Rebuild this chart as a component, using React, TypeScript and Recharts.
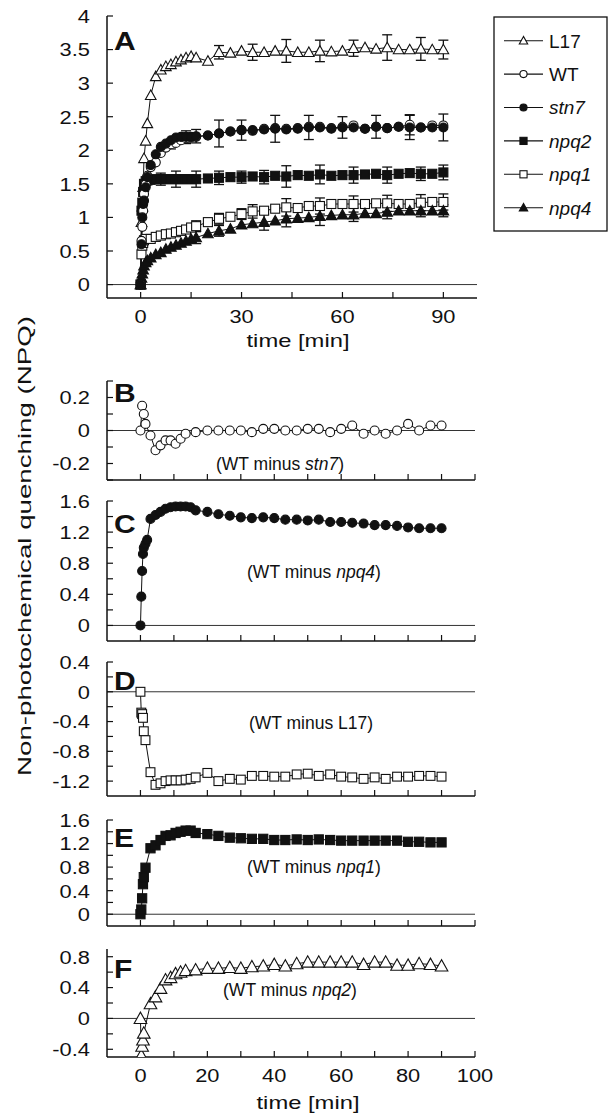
import React from 'react';
import { LineChart, Line, XAxis, YAxis, ReferenceLine, ErrorBar } from 'recharts';

const FONT = '"Liberation Sans", Arial, Helvetica, sans-serif';
const INK = '#111';

// measuring times (min)
const T = [0, 0.25, 0.5, 0.75, 1, 1.5, 2, 3, 4.5, 6, 7.5, 9, 10.5, 12, 13.5, 15, 16.5,
  20, 23.3, 26.7, 30, 33.3, 36.7, 40, 43.3, 46.7, 50, 53.3, 56.7, 60, 63.3, 66.7, 70, 73.3, 76.7, 80, 83.3, 86.7, 90];

// panel A: NPQ of each line
const L17 = [0, 0.93, 1.16, 1.45, 1.88, 2.14, 2.4, 2.82, 3.1, 3.2, 3.25, 3.28, 3.32, 3.35, 3.38, 3.4, 3.38,
  3.33, 3.46, 3.45, 3.48, 3.46, 3.46, 3.48, 3.48, 3.46, 3.46, 3.48, 3.47, 3.48, 3.52, 3.53, 3.51, 3.53, 3.5, 3.5, 3.51, 3.5, 3.5];
const WT = [0, 0.65, 0.86, 1.1, 1.35, 1.49, 1.62, 1.75, 1.82, 1.96, 2.04, 2.09, 2.11, 2.15, 2.18, 2.19, 2.2,
  2.22, 2.25, 2.28, 2.3, 2.29, 2.32, 2.33, 2.32, 2.33, 2.35, 2.35, 2.33, 2.35, 2.37, 2.32, 2.35, 2.33, 2.35, 2.38, 2.34, 2.37, 2.37];
const STN7 = [0, 0.6, 1.0, 1.2, 1.25, 1.45, 1.6, 1.78, 1.94, 2.05, 2.1, 2.15, 2.19, 2.2, 2.2, 2.2, 2.21,
  2.22, 2.25, 2.28, 2.3, 2.3, 2.31, 2.32, 2.31, 2.32, 2.34, 2.34, 2.32, 2.34, 2.34, 2.32, 2.35, 2.33, 2.35, 2.34, 2.34, 2.34, 2.34];
const NPQ2 = [0, 1.1, 1.22, 1.38, 1.5, 1.54, 1.55, 1.56, 1.57, 1.57, 1.57, 1.57, 1.57, 1.57, 1.57, 1.57, 1.57,
  1.58, 1.59, 1.6, 1.6, 1.61, 1.6, 1.62, 1.61, 1.63, 1.62, 1.64, 1.62, 1.63, 1.63, 1.64, 1.65, 1.63, 1.65, 1.66, 1.65, 1.65, 1.67];
const NPQ1 = [0, 0.45, 0.58, 0.62, 0.66, 0.68, null, 0.68, 0.71, 0.73, 0.75, 0.76, 0.78, 0.8, 0.82, 0.85, 0.87,
  0.93, 0.98, 1.01, 1.05, 1.09, 1.1, 1.13, 1.15, 1.14, 1.17, 1.17, 1.2, 1.2, 1.2, 1.2, 1.21, 1.21, 1.2, 1.2, 1.22, 1.23, 1.23];
const NPQ4 = [0, 0.1, 0.16, 0.22, 0.28, 0.33, 0.36, 0.4, 0.45, 0.48, 0.53, 0.56, 0.59, 0.62, 0.65, 0.68, 0.7,
  0.76, 0.8, 0.83, 0.89, 0.91, 0.93, 0.95, 0.98, 0.99, 1.0, 1.02, 1.03, 1.04, 1.04, 1.06, 1.06, 1.08, 1.1, 1.1, 1.1, 1.1, 1.1];

// error bars [index into T, +/- value]
const L17_ERR = [[18, 0.1], [21, 0.12], [24, 0.17], [27, 0.16], [30, 0.12], [33, 0.19], [36, 0.17], [38, 0.14]];
const WT_ERR = [[11, 0.07], [14, 0.08], [35, 0.15]];
const STN7_ERR = [[14, 0.09], [16, 0.1], [18, 0.2], [20, 0.15], [23, 0.2], [26, 0.18], [29, 0.16], [32, 0.17], [35, 0.18], [38, 0.2]];
const NPQ2_ERR = [[9, 0.09], [12, 0.12], [16, 0.12], [18, 0.1], [20, 0.09], [22, 0.1], [24, 0.16], [27, 0.14], [30, 0.12], [33, 0.12], [36, 0.1], [38, 0.11]];
const NPQ1_ERR = [[16, 0.08], [18, 0.08], [20, 0.08], [21, 0.1], [24, 0.13], [27, 0.12], [30, 0.12], [33, 0.12], [36, 0.12], [38, 0.12]];
const NPQ4_ERR = [[16, 0.09], [18, 0.08], [22, 0.12], [24, 0.12], [27, 0.14], [30, 0.1], [33, 0.1], [36, 0.09], [38, 0.09]];

// panels B-F: differences
const WT_STN7 = [0, null, 0.15, null, 0.1, 0.04, null, -0.03, -0.12, -0.09, -0.06, -0.06, -0.08, -0.05, -0.02, null, -0.01,
  0, 0, 0, 0, -0.01, 0.01, 0.01, 0, 0, 0.01, 0.01, -0.01, 0.01, 0.03, -0.02, 0, -0.02, 0, 0.04, 0, 0.03, 0.03];
const WT_NPQ4 = [0, 0.37, 0.7, 0.92, 1.0, 1.05, 1.1, 1.37, 1.42, 1.46, 1.5, 1.52, 1.53, 1.53, 1.53, 1.52, 1.48,
  1.46, 1.43, 1.41, 1.39, 1.38, 1.39, 1.38, 1.36, 1.36, 1.35, 1.36, 1.33, 1.33, 1.32, 1.31, 1.29, 1.29, 1.28, 1.26, 1.25, 1.25, 1.25];
const WT_L17 = [0, -0.28, -0.3, -0.35, -0.53, -0.65, null, -1.08, -1.25, -1.23, -1.2, -1.19, -1.19, -1.19, -1.18, -1.17, -1.15,
  -1.09, -1.2, -1.17, -1.18, -1.13, -1.13, -1.14, -1.14, -1.11, -1.1, -1.13, -1.11, -1.14, -1.15, -1.17, -1.15, -1.17, -1.14, -1.14, -1.13, -1.13, -1.14];
const WT_NPQ1 = [0, 0.08, 0.27, 0.51, 0.63, 0.79, null, 1.12, 1.17, 1.26, 1.33, 1.34, 1.38, 1.4, 1.42, 1.42, 1.38,
  1.36, 1.33, 1.3, 1.29, 1.28, 1.28, 1.26, 1.26, 1.27, 1.26, 1.27, 1.26, 1.25, 1.25, 1.25, 1.25, 1.25, 1.25, 1.23, 1.23, 1.22, 1.22];
const WT_NPQ2 = [0, -0.48, -0.36, -0.28, -0.19, null, null, 0.19, 0.28, 0.39, 0.5, 0.53, 0.58, 0.6, 0.62, null, 0.63,
  0.65, 0.65, 0.66, 0.65, 0.67, 0.68, 0.7, 0.68, 0.71, 0.73, 0.73, 0.73, 0.73, 0.73, 0.7, 0.73, 0.73, 0.69, 0.69, 0.71, 0.7, 0.68];

const LEGEND = [
  { name: 'L17', kind: 'triOpen', italic: false },
  { name: 'WT', kind: 'cirOpen', italic: false },
  { name: 'stn7', kind: 'cirFill', italic: true },
  { name: 'npq2', kind: 'sqFill', italic: true },
  { name: 'npq1', kind: 'sqOpen', italic: true },
  { name: 'npq4', kind: 'triFill', italic: true },
];

const errCol = (list: number[][]) => {
  const out: (number | undefined)[] = T.map(() => undefined);
  list.forEach(([i, e]) => { out[i] = e; });
  return out;
};

const errs = {
  L17: errCol(L17_ERR), WT: errCol(WT_ERR), stn7: errCol(STN7_ERR),
  npq2: errCol(NPQ2_ERR), npq1: errCol(NPQ1_ERR), npq4: errCol(NPQ4_ERR),
};

const rowsA = T.map((t, i) => ({
  t,
  L17: L17[i], WT: WT[i], stn7: STN7[i], npq2: NPQ2[i], npq1: NPQ1[i], npq4: NPQ4[i],
  L17_e: errs.L17[i], WT_e: errs.WT[i], stn7_e: errs.stn7[i],
  npq2_e: errs.npq2[i], npq1_e: errs.npq1[i], npq4_e: errs.npq4[i],
}));

const diffRows = (vals: (number | null)[]) => T.map((t, i) => ({ t, v: vals[i] }));

function Marker({ kind, cx, cy, s }: { kind: string; cx: number; cy: number; s: number }) {
  const fillOf = (filled: boolean) => (filled ? INK : '#fff');
  if (kind === 'triOpen' || kind === 'triFill') {
    const pts = `${cx},${cy - s} ${cx - s},${cy + s * 0.8} ${cx + s},${cy + s * 0.8}`;
    return <polygon points={pts} fill={fillOf(kind === 'triFill')} stroke={INK} strokeWidth={1.1} />;
  }
  if (kind === 'sqOpen' || kind === 'sqFill') {
    const h = s * 0.85;
    return <rect x={cx - h} y={cy - h} width={2 * h} height={2 * h} fill={fillOf(kind === 'sqFill')} stroke={INK} strokeWidth={1.1} />;
  }
  return <circle cx={cx} cy={cy} r={s * 0.85} fill={fillOf(kind === 'cirFill')} stroke={INK} strokeWidth={1.1} />;
}

const dotOf = (kind: string, s: number) => (p: any) => {
  if (p.value == null || !Number.isFinite(p.cy)) return <g key={`d${p.index}`} />;
  return <Marker key={`d${p.index}`} kind={kind} cx={p.cx} cy={p.cy} s={s} />;
};

const near = (list: number[], v: number) => list.some((l) => Math.abs(l - v) < 1e-6);

const tickOf = (side: 'left' | 'bottom', labels: number[]) => (p: any) => {
  const v = p.payload.value;
  if (!near(labels, v)) return <g />;
  return (
    <g transform={`translate(${p.x},${p.y}) scale(1.15,1)`}>
      <text x={0} y={0} dy={side === 'left' ? '0.36em' : '0.72em'} textAnchor={side === 'left' ? 'end' : 'middle'}
        fontSize={19} fontFamily={FONT} fill={INK}>{String(v)}</text>
    </g>
  );
};

const axisLine = { stroke: INK, strokeWidth: 1.5 };
const tickLine = { stroke: INK, strokeWidth: 1.2 };

type FrameProps = {
  width: number; height: number; margin: any; data: any[];
  xTicks: number[]; xLabels: number[]; xH: number;
  yDomain: [number, number]; yTicks: number[]; yLabels: number[];
  children: React.ReactNode;
};

function Frame({ width, height, margin, data, xTicks, xLabels, xH, yDomain, yTicks, yLabels, children }: FrameProps) {
  return (
    <LineChart width={width} height={height} data={data} margin={margin}>
      <XAxis xAxisId="b" dataKey="t" type="number" domain={[-10, 100]} allowDataOverflow ticks={xTicks}
        interval={0} height={xH} tickSize={-6} tickMargin={17} axisLine={axisLine} tickLine={tickLine}
        tick={tickOf('bottom', xLabels)} />
      <XAxis xAxisId="t" orientation="top" dataKey="t" type="number" domain={[-10, 100]} allowDataOverflow
        ticks={xTicks} interval={0} height={0} tickSize={-6} axisLine={axisLine} tickLine={tickLine} tick={false} />
      <YAxis yAxisId="l" type="number" domain={yDomain} allowDataOverflow ticks={yTicks} interval={0} width={107}
        tickSize={-6} tickMargin={23} axisLine={axisLine} tickLine={tickLine} tick={tickOf('left', yLabels)} />
      <YAxis yAxisId="r" orientation="right" type="number" domain={yDomain} allowDataOverflow ticks={yTicks}
        interval={0} width={0} tickSize={-6} axisLine={axisLine} tickLine={tickLine} tick={false} />
      <ReferenceLine y={0} xAxisId="b" yAxisId="l" stroke="#333" strokeWidth={1} />
      {children}
    </LineChart>
  );
}

const seriesA = [
  { key: 'L17', kind: 'triOpen' },
  { key: 'npq1', kind: 'sqOpen' },
  { key: 'npq4', kind: 'triFill' },
  { key: 'npq2', kind: 'sqFill' },
  { key: 'WT', kind: 'cirOpen' },
  { key: 'stn7', kind: 'cirFill' },
];

const X_TICKS_A = [0, 15, 30, 45, 60, 75, 90];
const X_LABELS_A = [0, 30, 60, 90];
const Y_TICKS_A = [0, 0.5, 1, 1.5, 2, 2.5, 3, 3.5, 4];
const X_TICKS = [0, 10, 20, 30, 40, 50, 60, 70, 80, 90, 100];
const X_LABELS = [0, 20, 40, 60, 80, 100];

const panels = [
  { vals: WT_STN7, kind: 'cirOpen', s: 5.3, top: 381, h: 99, domain: [-0.3, 0.3] as [number, number],
    ticks: [-0.3, -0.2, -0.1, 0, 0.1, 0.2, 0.3], labels: [-0.2, 0, 0.2], last: false },
  { vals: WT_NPQ4, kind: 'cirFill', s: 5.3, top: 501, h: 140, domain: [-0.2, 1.6] as [number, number],
    ticks: [0, 0.2, 0.4, 0.6, 0.8, 1, 1.2, 1.4, 1.6], labels: [0, 0.4, 0.8, 1.2, 1.6], last: false },
  { vals: WT_L17, kind: 'sqOpen', s: 5.2, top: 662, h: 134, domain: [-1.4, 0.4] as [number, number],
    ticks: [-1.2, -1, -0.8, -0.6, -0.4, -0.2, 0, 0.2, 0.4], labels: [-1.2, -0.8, -0.4, 0, 0.4], last: false },
  { vals: WT_NPQ1, kind: 'sqFill', s: 5.4, top: 820, h: 106, domain: [-0.2, 1.6] as [number, number],
    ticks: [0, 0.2, 0.4, 0.6, 0.8, 1, 1.2, 1.4, 1.6], labels: [0, 0.4, 0.8, 1.2, 1.6], last: false },
  { vals: WT_NPQ2, kind: 'triOpen', s: 6.3, top: 949, h: 108, domain: [-0.5, 0.9] as [number, number],
    ticks: [-0.4, -0.2, 0, 0.2, 0.4, 0.6, 0.8], labels: [-0.4, 0, 0.4, 0.8], last: true },
];

const letters = [
  { ch: 'A', y: 50 }, { ch: 'B', y: 402 }, { ch: 'C', y: 533 },
  { ch: 'D', y: 690 }, { ch: 'E', y: 847 }, { ch: 'F', y: 978 },
];

const notes = [
  { pre: '(WT minus ', gene: 'stn7', post: ')', x: 280, y: 470 },
  { pre: '(WT minus ', gene: 'npq4', post: ')', x: 314, y: 578 },
  { pre: '(WT minus L17)', gene: '', post: '', x: 311, y: 729 },
  { pre: '(WT minus ', gene: 'npq1', post: ')', x: 314, y: 873 },
  { pre: '(WT minus ', gene: 'npq2', post: ')', x: 290, y: 996 },
];

function Overlay() {
  return (
    <svg width={608} height={1115} style={{ position: 'absolute', left: 0, top: 0, pointerEvents: 'none' }}
      fontFamily={FONT} fill={INK}>
      {letters.map((l) => (
        <g key={l.ch} transform={`translate(114,${l.y}) scale(1.2,1)`}>
          <text x={0} y={0} fontSize={25} fontWeight="bold">{l.ch}</text>
        </g>
      ))}
      {notes.map((n, i) => (
        <text key={i} x={n.x} y={n.y} fontSize={17.5} textAnchor="middle">
          {n.pre}{n.gene && <tspan fontStyle="italic">{n.gene}</tspan>}{n.post}
        </text>
      ))}
      <text x={298} y={347} fontSize={19} textAnchor="middle" textLength={103} lengthAdjust="spacingAndGlyphs">time [min]</text>
      <text x={308} y={1109} fontSize={19} textAnchor="middle" textLength={103} lengthAdjust="spacingAndGlyphs">time [min]</text>
      <text transform="translate(31,546) rotate(-90)" x={0} y={0} fontSize={19} textAnchor="middle"
        textLength={460} lengthAdjust="spacingAndGlyphs">Non-photochemical quenching (NPQ)</text>

      <rect x={494} y={17} width={113} height={214} fill="#fff" stroke={INK} strokeWidth={1.3} />
      {LEGEND.map((e, i) => {
        const y = 40.7 + i * 33.4;
        return (
          <g key={e.name}>
            <line x1={504} x2={543} y1={y} y2={y} stroke={INK} strokeWidth={1.1} />
            <Marker kind={e.kind} cx={523.5} cy={y} s={4.2} />
            <text x={549} y={y} dy="0.36em" fontSize={19} fontStyle={e.italic ? 'italic' : 'normal'}>{e.name}</text>
          </g>
        );
      })}
    </svg>
  );
}

export default function App() {
  return (
    <div style={{ position: 'absolute', left: 0, top: 0, width: 608, height: 1115, background: '#fff', fontFamily: FONT }}>
      <div style={{ position: 'absolute', left: 0, top: 0 }}>
        <Frame width={478} height={330} margin={{ top: 16, right: 1, bottom: 0, left: 0 }} data={rowsA}
          xTicks={X_TICKS_A} xLabels={X_LABELS_A} xH={32} yDomain={[-0.2, 4]} yTicks={Y_TICKS_A} yLabels={Y_TICKS_A}>
          {seriesA.map((s) => (
            <Line key={s.key} xAxisId="b" yAxisId="l" dataKey={s.key} stroke={INK} strokeWidth={1}
              dot={dotOf(s.kind, 5.3)} activeDot={false} connectNulls isAnimationActive={false}>
              <ErrorBar dataKey={`${s.key}_e`} direction="y" width={5} stroke={INK} strokeWidth={1.3} />
            </Line>
          ))}
        </Frame>
      </div>
      {panels.map((p, i) => {
        const xH = p.last ? 32 : 10;
        return (
          <div key={i} style={{ position: 'absolute', left: 0, top: p.top - 10 }}>
            <Frame width={505} height={10 + p.h + xH} margin={{ top: 10, right: 30, bottom: 0, left: 0 }}
              data={diffRows(p.vals)} xTicks={X_TICKS} xLabels={p.last ? X_LABELS : []} xH={xH}
              yDomain={p.domain} yTicks={p.ticks} yLabels={p.labels}>
              <Line xAxisId="b" yAxisId="l" dataKey="v" stroke={INK} strokeWidth={1}
                dot={dotOf(p.kind, p.s)} activeDot={false} connectNulls isAnimationActive={false} />
            </Frame>
          </div>
        );
      })}
      <Overlay />
    </div>
  );
}
